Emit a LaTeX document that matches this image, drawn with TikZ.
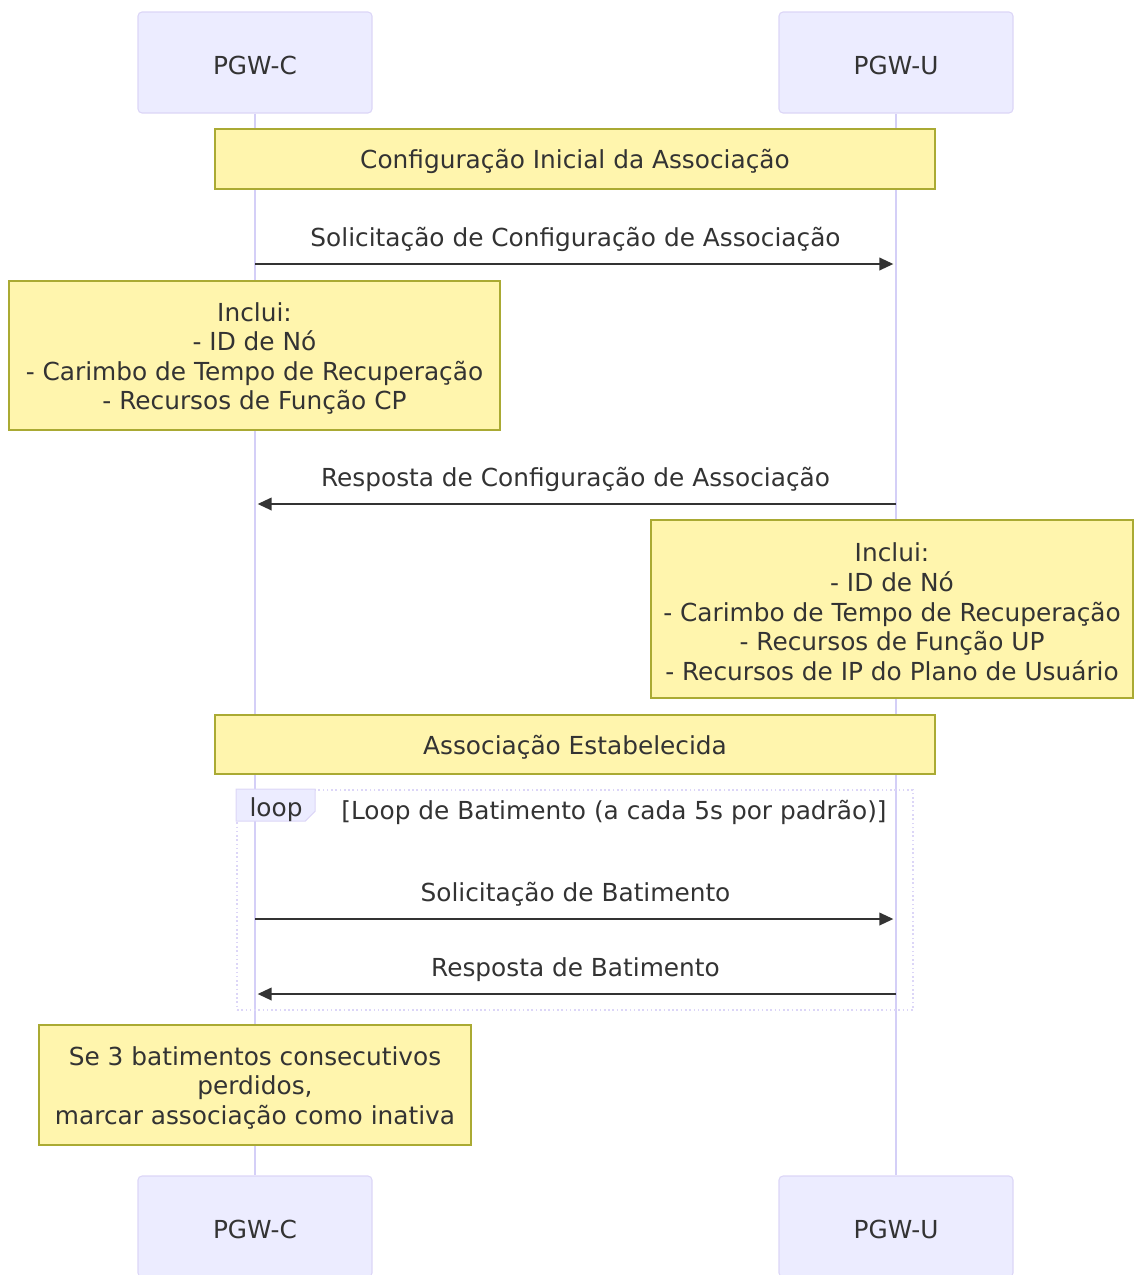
\documentclass[tikz,border=0pt]{standalone}
\usepackage{fontspec}
\setmainfont{DejaVu Sans}
\usepackage{xcolor}
\usepackage{tikz}
\usetikzlibrary{arrows.meta, positioning}
\definecolor{actorfill}{HTML}{ECECFF}
\definecolor{actorline}{HTML}{DCD6F7}
\definecolor{lifeline}{HTML}{D4CFF7}
\definecolor{notefill}{HTML}{FFF5AD}
\definecolor{noteline}{HTML}{AAAA33}
\definecolor{ink}{HTML}{333333}
\newcommand{\topgap}{\rule{0pt}{18.5pt}}

\tikzset{
  lowtext/.style={execute at begin node={\topgap}},
  actor/.style={draw=actorline, fill=actorfill, rounded corners=3pt, line width=0.8pt,
    minimum width=175.5pt, minimum height=75.75pt, inner sep=0pt, text=ink, lowtext},
  note/.style={draw=noteline, fill=notefill, line width=0.8pt, inner sep=0pt,
    align=center, text=ink},
  msg/.style={draw=ink, line width=1.3pt, -{Triangle[length=10.5pt,width=9.5pt]}, shorten >=2pt},
  msglabel/.style={anchor=base, yshift=13.5pt, inner sep=0pt, text=ink},
  loopbox/.style={draw=actorline, dotted, line width=1.2pt, minimum width=507pt,
    minimum height=165pt, inner sep=0pt},
  looptag/.style={draw=actorline, fill=actorfill, line width=0.8pt},
}

\begin{document}
\begin{tikzpicture}[x=0.75pt, y=-0.75pt, font=\fontsize{18.6}{22.2}\selectfont]
  \useasboundingbox (0,0) rectangle (1134,1275);

  % Actors
  \node[actor] (cTop) at (255,62.5) {PGW-C};
  \node[actor] (uTop) at (896,62.5) {PGW-U};
  \node[actor] (cBot) at (255,1226.5) {PGW-C};
  \node[actor] (uBot) at (896,1226.5) {PGW-U};

  \draw[lifeline, line width=1.5pt] (cTop) -- (cBot) (uTop) -- (uBot);

  % Setup
  \node[note, minimum width=540pt, minimum height=45pt] (setup) at (575,159)
    {\topgap Configuração Inicial da Associação};

  \coordinate (m1a) at (cTop |- 0,264);
  \coordinate (m1b) at (uTop |- 0,264);
  \draw[msg] (m1a) -- node[msglabel] {Solicitação de Configuração de Associação} (m1b);

  \node[note, minimum width=368.25pt, minimum height=111.75pt] (cpNote) at (254.5,355.5)
    {\topgap Inclui:\\- ID de Nó\\- Carimbo de Tempo de Recuperação\\- Recursos de Função CP};

  \coordinate (m2a) at (uTop |- 0,504);
  \coordinate (m2b) at (cTop |- 0,504);
  \draw[msg] (m2a) -- node[msglabel] {Resposta de Configuração de Associação} (m2b);

  \node[note, minimum width=361.5pt, minimum height=133.5pt] (upNote) at (892,609)
    {\topgap Inclui:\\- ID de Nó\\- Carimbo de Tempo de Recuperação\\- Recursos de Função UP\\- Recursos de IP do Plano de Usuário};

  \node[note, minimum width=540pt, minimum height=44.25pt] (est) at (575,744.5)
    {\topgap Associação Estabelecida};

  % Heartbeat loop
  \node[loopbox] (loop) at (575,900) {};
  \draw[looptag] (loop.north west) -- ++(79,0) -- ++(0,22) -- ++(-10,10) -- ++(-69,0) -- cycle;
  \node[inner sep=0pt, text=ink] (loopTxt) at (276,810) {loop};
  \node[inner sep=0pt, text=ink] (loopCond) at (614,812) {[Loop de Batimento (a cada 5s por padrão)]};

  \coordinate (m3a) at (cTop |- 0,919);
  \coordinate (m3b) at (uTop |- 0,919);
  \draw[msg] (m3a) -- node[msglabel] {Solicitação de Batimento} (m3b);

  \coordinate (m4a) at (uTop |- 0,994);
  \coordinate (m4b) at (cTop |- 0,994);
  \draw[msg] (m4a) -- node[msglabel] {Resposta de Batimento} (m4b);

  \node[note, minimum width=324pt, minimum height=90pt] (lost) at (255,1085)
    {\topgap Se 3 batimentos consecutivos\\perdidos,\\marcar associação como inativa};
\end{tikzpicture}
\end{document}
